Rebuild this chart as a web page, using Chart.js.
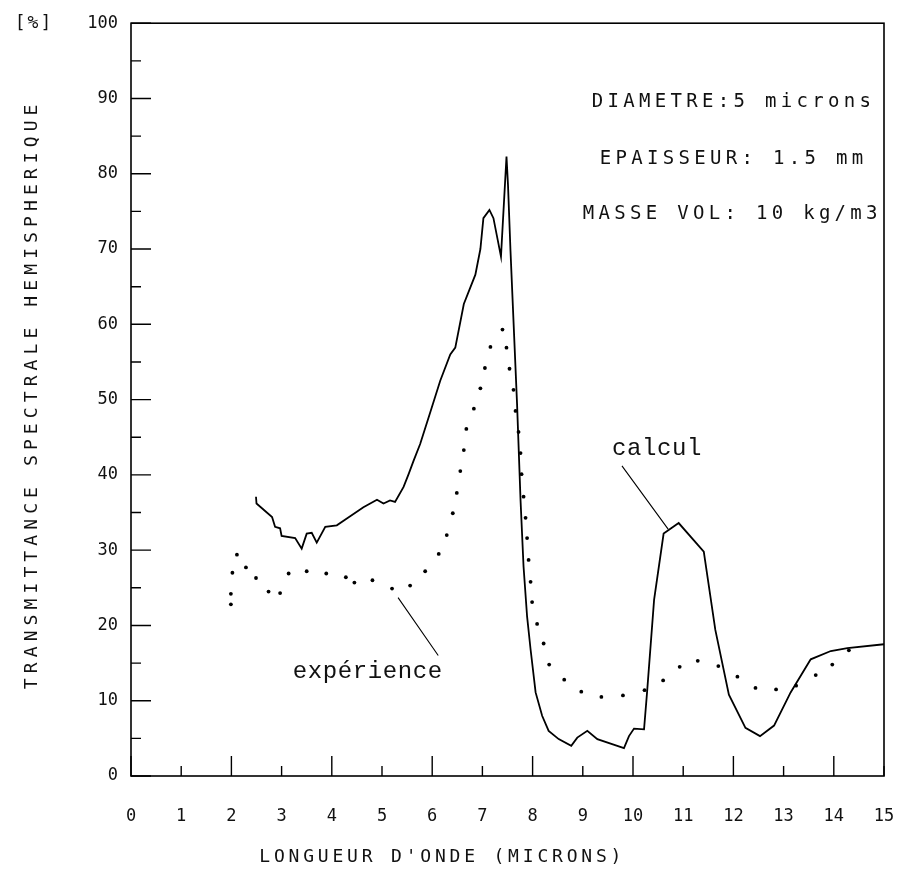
<!DOCTYPE html>
<html>
<head>
<meta charset="utf-8">
<script src="https://cdn.jsdelivr.net/npm/chart.js@4.4.0/dist/chart.umd.min.js"></script>
<style>
  body { margin: 0; background: #fff; }
  canvas { display: block; }
</style>
</head>
<body>
<canvas id="myChart" width="904" height="869"></canvas>
<script>
// calcul - solid line
var calcX = [2.49, 2.50, 2.81, 2.87, 2.97, 3.00, 3.27, 3.40, 3.50, 3.60, 3.70, 3.87, 4.10, 4.30, 4.63, 4.90, 5.03, 5.16, 5.26, 5.43,
             5.53, 5.63, 5.76, 5.96, 6.16, 6.36, 6.46, 6.63, 6.86, 6.96, 7.02, 7.14, 7.22, 7.37, 7.48, 7.51, 7.56, 7.69, 7.76, 7.82,
             7.89, 7.96, 8.06, 8.19, 8.32, 8.52, 8.77, 8.89, 9.09, 9.29, 9.82, 9.92, 10.02, 10.22, 10.28, 10.42, 10.61, 10.91, 11.41, 11.64,
             11.91, 12.24, 12.53, 12.81, 13.14, 13.54, 13.94, 14.27, 15.0];
var calcY = [37.1, 36.2, 34.4, 33.1, 32.9, 31.9, 31.6, 30.2, 32.2, 32.3, 31.0, 33.1, 33.3, 34.2, 35.7, 36.7, 36.2, 36.6, 36.4, 38.4,
             40.1, 41.9, 44.1, 48.3, 52.5, 56.0, 56.9, 62.7, 66.6, 70.0, 74.1, 75.2, 74.1, 69.0, 82.3, 78.5, 69.7, 49.5, 36.6, 27.8,
             21.2, 16.8, 11.1, 8.0, 6.0, 4.9, 4.0, 5.1, 6.0, 4.9, 3.7, 5.3, 6.3, 6.2, 11.1, 23.4, 32.2, 33.6, 29.8, 19.4,
             10.8, 6.4, 5.3, 6.7, 11.1, 15.5, 16.6, 17.0, 17.5];

// experience - dotted
var expX = [1.99, 1.99, 2.02, 2.11, 2.29, 2.49, 2.74, 2.97, 3.14, 3.50, 3.89, 4.28, 4.45, 4.81, 5.20, 5.56, 5.86, 6.13, 6.29, 6.41,
            6.49, 6.56, 6.63, 6.68, 6.83, 6.96, 7.05, 7.16, 7.40, 7.48, 7.54, 7.62, 7.66, 7.72, 7.76, 7.78, 7.82, 7.86, 7.89, 7.92,
            7.96, 7.99, 8.09, 8.22, 8.33, 8.63, 8.97, 9.37, 9.80, 10.23, 10.60, 10.93, 11.29, 11.70, 12.08, 12.44, 12.85, 13.25, 13.64, 13.97, 14.30];
var expY = [22.8, 24.2, 27.0, 29.4, 27.7, 26.3, 24.5, 24.3, 26.9, 27.2, 26.9, 26.4, 25.7, 26.0, 24.9, 25.3, 27.2, 29.5, 32.0, 34.9,
            37.6, 40.5, 43.3, 46.1, 48.8, 51.5, 54.2, 57.0, 59.3, 56.9, 54.1, 51.3, 48.5, 45.7, 42.9, 40.1, 37.1, 34.3, 31.6, 28.7,
            25.8, 23.1, 20.2, 17.6, 14.8, 12.8, 11.2, 10.5, 10.7, 11.4, 12.7, 14.5, 15.3, 14.6, 13.2, 11.7, 11.5, 12.0, 13.4, 14.8, 16.7];

var xMin = 0, xMax = 15;
var yMin = 0, yMax = 100;

var plotFont = "'DejaVu Sans Mono', monospace";
var typeFont = "'Liberation Mono', 'DejaVu Sans Mono', monospace";

function toPoints(xs, ys) {
    var pts = [];
    for (var i = 0; i < xs.length; i++) pts.push({x: xs[i], y: ys[i]});
    return pts;
}

// texts placed in data units
var notes = [
    {text: 'DIAMETRE:5 microns', x: 9.18, y: 89.5, font: '19px ' + plotFont, sp: 4.3},
    {text: 'EPAISSEUR: 1.5 mm', x: 9.34, y: 82.0, font: '19px ' + plotFont, sp: 4.3},
    {text: 'MASSE VOL: 10 kg/m3', x: 9.0, y: 74.7, font: '19px ' + plotFont, sp: 4.3},
    {text: 'calcul', x: 9.58, y: 43.5, font: '24px ' + typeFont, sp: 0.6},
    {text: 'expérience', x: 3.22, y: 13.8, font: '24px ' + typeFont, sp: 0.6}
];
var leaders = [
    [9.78, 41.2, 10.70, 32.8],
    [5.32, 23.7, 6.12, 16.0]
];

var framePlugin = {
    id: 'frame',
    afterDraw: function (chart) {
        var ctx = chart.ctx, a = chart.chartArea;
        var xs = chart.scales.x, ys = chart.scales.y;
        ctx.save();
        ctx.strokeStyle = '#000';
        ctx.lineWidth = 1.6;
        ctx.strokeRect(a.left, a.top, a.right - a.left, a.bottom - a.top);

        // inward ticks
        ctx.lineWidth = 1.4;
        ctx.beginPath();
        for (var v = xMin; v <= xMax; v++) {
            var px = xs.getPixelForValue(v);
            ctx.moveTo(px, a.bottom);
            ctx.lineTo(px, a.bottom - (v % 2 === 0 ? 20 : 10));
        }
        for (var w = yMin; w <= yMax; w += 5) {
            var py = ys.getPixelForValue(w);
            ctx.moveTo(a.left, py);
            ctx.lineTo(a.left + (w % 10 === 0 ? 20 : 10), py);
        }
        ctx.stroke();

        // leader lines
        ctx.lineWidth = 1.1;
        ctx.beginPath();
        leaders.forEach(function (l) {
            ctx.moveTo(xs.getPixelForValue(l[0]), ys.getPixelForValue(l[1]));
            ctx.lineTo(xs.getPixelForValue(l[2]), ys.getPixelForValue(l[3]));
        });
        ctx.stroke();

        ctx.fillStyle = '#111';
        ctx.textAlign = 'left';
        ctx.textBaseline = 'middle';
        notes.forEach(function (n) {
            ctx.font = n.font;
            ctx.letterSpacing = n.sp + 'px';
            ctx.fillText(n.text, xs.getPixelForValue(n.x), ys.getPixelForValue(n.y));
        });

        // axis titles
        ctx.font = '18px ' + plotFont;
        ctx.textAlign = 'center';
        ctx.letterSpacing = '3.8px';
        ctx.fillText("LONGUEUR D'ONDE (MICRONS)", xs.getPixelForValue(6.2), a.bottom + 81);

        ctx.letterSpacing = '5.1px';
        ctx.save();
        ctx.translate(32, ys.getPixelForValue(50.7));
        ctx.rotate(-Math.PI / 2);
        ctx.fillText('TRANSMITTANCE SPECTRALE HEMISPHERIQUE', 0, 0);
        ctx.restore();

        ctx.letterSpacing = '2px';
        ctx.fillText('[%]', 34, a.top);
        ctx.restore();
    }
};

var ctx = document.getElementById("myChart").getContext('2d');
var myChart = new Chart(ctx, {
    type: 'scatter',
    data: {
        datasets: [{
            label: 'calcul',
            data: toPoints(calcX, calcY),
            showLine: true,
            borderColor: '#000',
            borderWidth: 1.8,
            pointRadius: 0,
            tension: 0
        },
        {
            label: 'expérience',
            data: toPoints(expX, expY),
            showLine: false,
            pointRadius: 1.9,
            pointBackgroundColor: '#000',
            pointBorderWidth: 0
        }]
    },
    options: {
        responsive: false,
        animation: false,
        devicePixelRatio: 1,
        layout: { padding: { top: 21, right: 0, bottom: 0, left: 0 } },
        plugins: {
            legend: { display: false },
            tooltip: { enabled: false }
        },
        scales: {
            x: {
                type: 'linear',
                min: xMin, max: xMax,
                afterFit: function (s) { s.height = 93; s.paddingRight = 20; },
                grid: { display: false, drawTicks: false },
                border: { display: false },
                ticks: { stepSize: 1, padding: 30, color: '#111', font: { family: plotFont, size: 17 }, maxRotation: 0 }
            },
            y: {
                type: 'linear',
                min: yMin, max: yMax,
                afterFit: function (s) { s.width = 131; },
                grid: { display: false, drawTicks: false },
                border: { display: false },
                ticks: { stepSize: 10, padding: 13, color: '#111', font: { family: plotFont, size: 17 } }
            }
        }
    },
    plugins: [framePlugin]
});
</script>
</body>
</html>
